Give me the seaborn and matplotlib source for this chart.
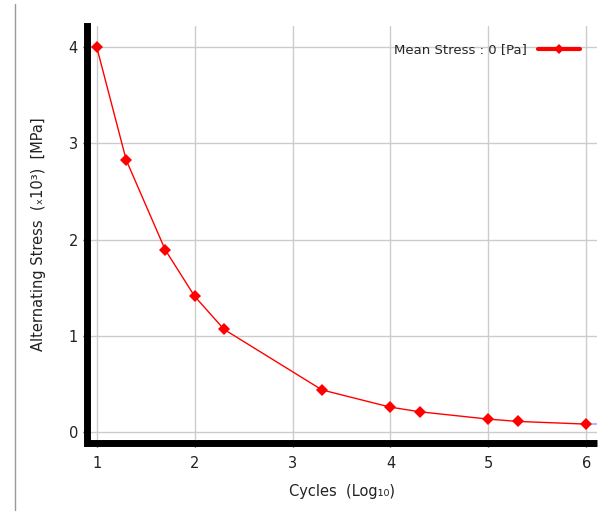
import matplotlib
matplotlib.use("Agg")
import matplotlib.pyplot as plt
import seaborn as sns
import pandas as pd
from matplotlib.lines import Line2D

# S-N curve data (log10 of cycles vs alternating stress in x10^3 MPa)
cycles_log = [1.0, 1.301, 1.699, 2.0, 2.301, 3.301, 4.0, 4.301, 5.0, 5.301, 6.0]
stress = [3.999, 2.827, 1.896, 1.413, 1.069, 0.441, 0.262, 0.214, 0.138, 0.114, 0.0862]
series_label = "Mean Stress : 0 [Pa]"

df = pd.DataFrame({"cycles": cycles_log, "stress": stress})

sns.set_style("white")
plt.rcParams["font.family"] = ["DejaVu Sans"]

fig = plt.figure(figsize=(6.01, 5.14), dpi=100)
ax = fig.add_axes([87 / 601, 1 - 443 / 514, (597 - 87) / 601, (443 - 26) / 514])

# faint extension lines outside the data range
ax.plot([0.9, cycles_log[0]], [stress[0], stress[0]], color="#b0b8ff", lw=1.5, zorder=1)
ax.plot([cycles_log[-1], 6.11], [stress[-1], stress[-1]], color="#b0b8ff", lw=1.5, zorder=1)

sns.lineplot(data=df, x="cycles", y="stress", color="red", lw=1, marker="D",
             markersize=6, markeredgewidth=0, ax=ax, zorder=3)

ax.set_xlim(0.9, 6.11)
ax.set_ylim(-0.11, 4.22)
ax.set_xticks([1, 2, 3, 4, 5, 6])
ax.set_yticks([0, 1, 2, 3, 4])
ax.grid(True, color="#cccccc", lw=1)

for s in ["top", "right"]:
    ax.spines[s].set_visible(False)
for s in ["left", "bottom"]:
    ax.spines[s].set_linewidth(5)
    ax.spines[s].set_color("black")
ax.spines["bottom"].set_capstyle("butt")
ax.spines["left"].set_capstyle("projecting")

ax.tick_params(axis="both", labelsize=10.5, colors="#222222", length=3, width=1,
               direction="out", left=True, bottom=True)
ax.tick_params(axis="x", pad=6)

ax.set_xlabel("Cycles  (Log₁₀)", fontsize=10.5, color="#222222", labelpad=10)
ax.set_ylabel("Alternating Stress  (ₓ10³)  [MPa]", fontsize=10.5, color="#222222", labelpad=16)

handle = Line2D([], [], color="red", lw=3, marker="D", markersize=5, markeredgewidth=0)
ax.legend([handle], [series_label], loc="upper right", frameon=False, markerfirst=False,
          fontsize=9.5, handlelength=3.2, handletextpad=0.8,
          bbox_to_anchor=(1.0, 1.0), borderaxespad=0.9)

# thin gray border line at the left of the figure
fig.add_artist(Line2D([15 / 601, 15 / 601], [4 / 514, 1 - 4 / 514], color="#999999", lw=1))

fig.savefig("out.png", dpi=100)
